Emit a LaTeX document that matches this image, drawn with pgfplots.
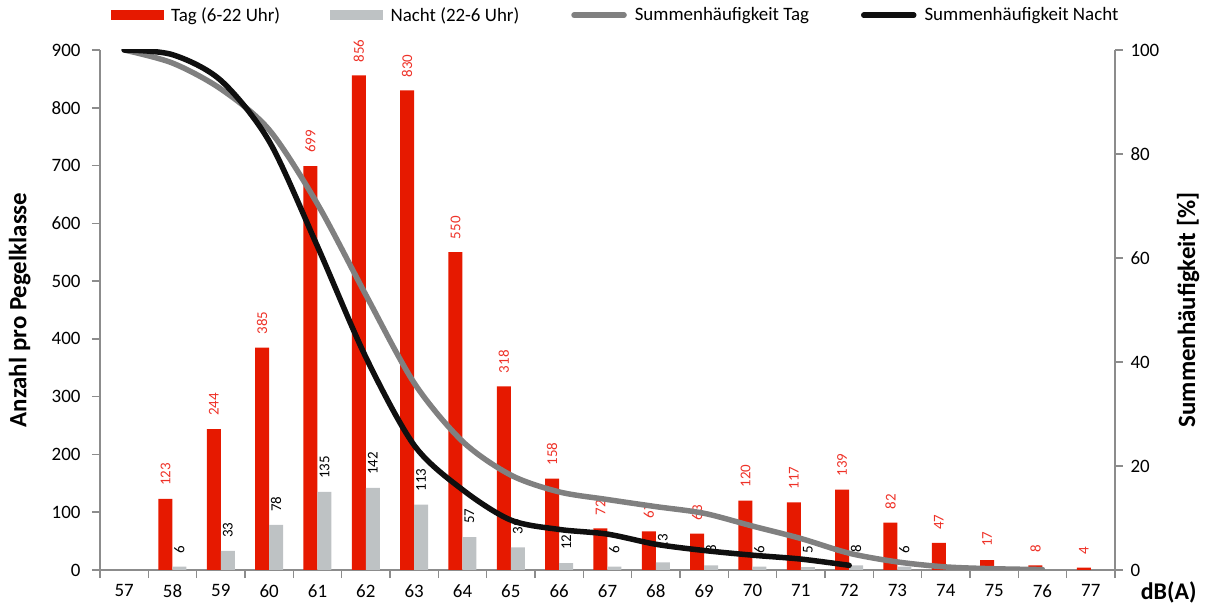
\documentclass[border=0pt]{standalone}
\usepackage{fontspec}
\setmainfont{Carlito}
\usepackage{pgfplots}
\pgfplotsset{compat=1.18}
\definecolor{barred}{RGB}{230,25,0}
\definecolor{labred}{RGB}{238,50,40}
\definecolor{bargray}{RGB}{190,194,196}
\definecolor{lingray}{RGB}{128,128,128}
\definecolor{linblack}{RGB}{15,15,15}
\definecolor{axgray}{RGB}{140,140,140}
\begin{document}
\begin{tikzpicture}
\useasboundingbox (-100bp,-35bp) rectangle (1105bp,570bp);
\pgfplotsset{common/.style={at={(0,0)}, anchor=south west, scale only axis,
  width=1015bp, height=520bp, xmin=56.5, xmax=77.5,
  /pgf/number format/assume math mode=true,
  tick label style={font=\fontsize{19}{22}\selectfont},
  axis line style={axgray, line width=1.5bp},
  tick style={axgray, line width=1.5bp},
  tick align=outside, major tick length=0pt, minor tick length=8bp}}
\begin{axis}[common, ymin=0, ymax=900,
  axis y line*=left, axis x line*=bottom,
  ytick={0,100,...,900}, minor ytick={0,100,...,900},
  xtick={57,...,77}, minor xtick={56.5,57.5,...,77.5},
  xticklabel style={yshift=-11bp}, yticklabel style={xshift=-16bp},
  ylabel={\bfseries Anzahl pro Pegelklasse},
  ylabel style={at={(axis description cs:-0.079,0.5)}, anchor=center, font=\fontsize{25}{30}\selectfont},
  xlabel={\bfseries dB(A)},
  xlabel style={at={(axis description cs:1.022,-0.043)}, anchor=west, font=\fontsize{24}{28}\selectfont},
  ybar=0pt, bar width=14bp,
  nodes near coords,
  nodes near coords style={rotate=90, anchor=west, inner xsep=13bp, inner ysep=0pt, font=\fontsize{15}{18}\selectfont},
]
\addplot[fill=barred, draw=none, every node near coord/.append style={labred}] coordinates {
(58,123)(59,244)(60,385)(61,699)(62,856)(63,830)(64,550)(65,318)(66,158)(67,72)
(68,67)(69,63)(70,120)(71,117)(72,139)(73,82)(74,47)(75,17)(76,8)(77,4)};
\addplot[fill=bargray, draw=none, every node near coord/.append style={black}] coordinates {
(58,6)(59,33)(60,78)(61,135)(62,142)(63,113)(64,57)(65,39)(66,12)(67,6)
(68,13)(69,8)(70,6)(71,5)(72,8)(73,6)};
\end{axis}
\begin{axis}[common, ymin=0, ymax=100,
  axis y line*=right, axis x line=none,
  ytick={0,20,...,100}, minor ytick={0,20,...,100},
  yticklabel style={xshift=12bp},
  ylabel={\bfseries Summenhäufigkeit [\%]},
  ylabel style={at={(axis description cs:1.072,0.5)}, anchor=center, font=\fontsize{25}{30}\selectfont},
  legend columns=4,
  legend style={at={(axis description cs:0.508,1.067)}, anchor=center, draw=none,
    font=\fontsize{19}{22}\selectfont, /tikz/every even column/.append style={column sep=48bp}},
]
\addlegendimage{legend image code/.code={\fill[barred] (0bp,-4.5bp) rectangle (52bp,4.5bp); \path (0bp,0bp) (58bp,0bp);}}
\addlegendentry{Tag (6-22 Uhr)}
\addlegendimage{legend image code/.code={\fill[bargray] (0bp,-4.5bp) rectangle (52bp,4.5bp); \path (0bp,0bp) (58bp,0bp);}}
\addlegendentry{Nacht (22-6 Uhr)}
\addplot[lingray, line width=5.5bp, smooth, tension=0.5, line cap=round,
  legend image code/.code={\draw[lingray, line width=5.5bp, line cap=round] (2bp,0bp) -- (52bp,0bp); \path (0bp,0bp) (58bp,0bp);}] coordinates {
(57,100)(58,97.49)(59,92.51)(60,84.65)(61,70.38)(62,52.91)(63,35.97)(64,24.74)(65,18.25)
(66,15.02)(67,13.55)(68,12.19)(69,10.90)(70,8.45)(71,6.06)(72,3.23)(73,1.55)(74,0.59)
(75,0.24)(76,0.08)};
\addlegendentry{Summenhäufigkeit Tag}
\addplot[linblack, line width=5.5bp, smooth, tension=0.5, line cap=round,
  legend image code/.code={\draw[linblack, line width=5.5bp, line cap=round] (2bp,0bp) -- (52bp,0bp); \path (0bp,0bp) (58bp,0bp);}] coordinates {
(57,100)(58,99.10)(59,94.15)(60,82.46)(61,62.22)(62,40.93)(63,23.99)(64,15.44)(65,9.60)
(66,7.80)(67,6.90)(68,4.95)(69,3.75)(70,2.85)(71,2.10)(72,0.90)};
\addlegendentry{Summenhäufigkeit Nacht}
\end{axis}
\end{tikzpicture}
\end{document}
